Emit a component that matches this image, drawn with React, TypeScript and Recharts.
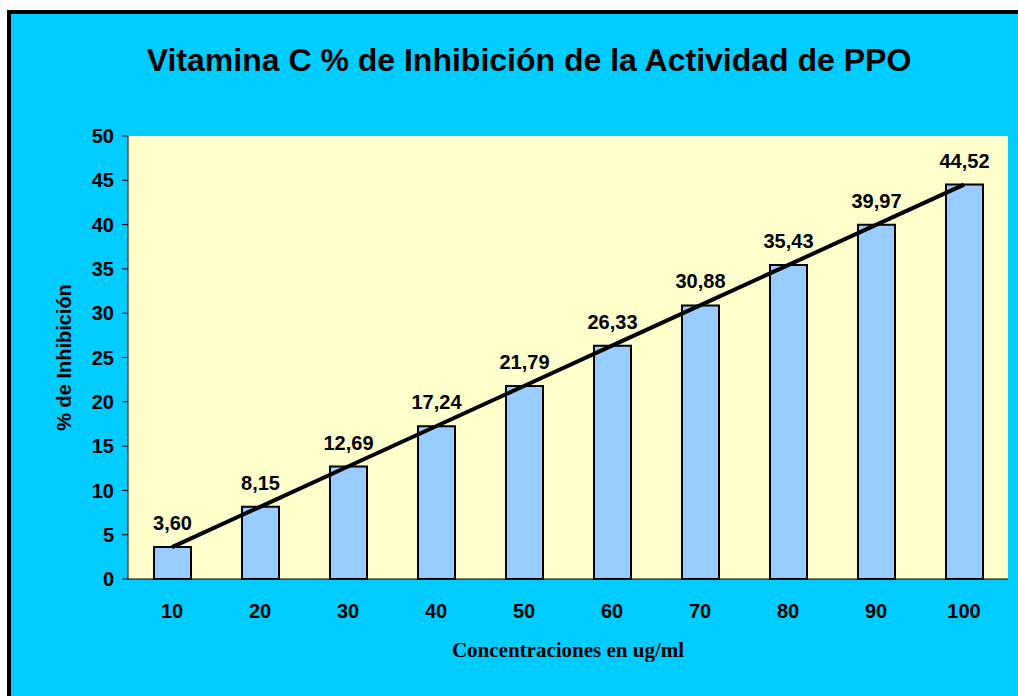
import React from "react"
import {
  ComposedChart,
  Bar,
  Line,
  XAxis,
  YAxis,
  CartesianGrid,
  LabelList,
  Label,
} from "recharts"

const concentrations = ["10", "20", "30", "40", "50", "60", "70", "80", "90", "100"]
const inhibition = [3.6, 8.15, 12.69, 17.24, 21.79, 26.33, 30.88, 35.43, 39.97, 44.52]
const yTicks = [0, 5, 10, 15, 20, 25, 30, 35, 40, 45, 50]

// linear trend line (least squares over the bar positions)
const n = inhibition.length
const xs = inhibition.map((_, i) => i + 1)
const meanX = xs.reduce((a, b) => a + b, 0) / n
const meanY = inhibition.reduce((a, b) => a + b, 0) / n
const slope =
  xs.reduce((s, x, i) => s + (x - meanX) * (inhibition[i] - meanY), 0) /
  xs.reduce((s, x) => s + (x - meanX) ** 2, 0)
const intercept = meanY - slope * meanX

const data = concentrations.map((c, i) => ({
  conc: c,
  value: inhibition[i],
  trend: intercept + slope * xs[i],
}))

const edgeTicks = Array.from({ length: n + 1 }, (_, i) => i)

const font = "'Liberation Sans', Arial, sans-serif"
const tickStyle = { fill: "#000", fontSize: 20, fontWeight: "bold", fontFamily: font }

const YLabel = ({ viewBox }: any) => {
  const x = viewBox.x + 6
  const y = viewBox.y + viewBox.height / 2
  return (
    <text
      x={x}
      y={y}
      transform={`rotate(-90, ${x}, ${y})`}
      textAnchor="middle"
      dominantBaseline="central"
      fontFamily={font}
      fontSize={20}
      fontWeight="bold"
      fill="#000"
    >
      % de Inhibición
    </text>
  )
}

export default function App() {
  return (
    <div
      style={{
        position: "absolute",
        left: 0,
        top: 0,
        width: 1018,
        height: 696,
        overflow: "hidden",
        background: "#fff",
      }}
    >
      <div
        style={{
          position: "absolute",
          left: 7,
          top: 10,
          width: 1100,
          height: 800,
          border: "4px solid #000",
          background: "#00CCFF",
        }}
      />
      <div
        style={{
          position: "absolute",
          left: 0,
          top: 44,
          width: 1058,
          textAlign: "center",
          fontFamily: font,
          fontSize: 32,
          lineHeight: "32px",
          fontWeight: "bold",
          color: "#000",
          whiteSpace: "nowrap",
        }}
      >
        Vitamina C % de Inhibición de la Actividad de PPO
      </div>
      <div style={{ position: "absolute", left: 0, top: 0 }}>
        <ComposedChart
          width={1018}
          height={696}
          data={data}
          margin={{ top: 136, right: 10, bottom: 27, left: 58 }}
        >
          <CartesianGrid horizontal={false} vertical={false} fill="#FFFFCC" stroke="none" />
          <XAxis
            xAxisId="edges"
            type="number"
            domain={[0, n]}
            ticks={edgeTicks}
            height={0}
            axisLine={false}
            tickSize={6}
            tickLine={{ stroke: "#000" }}
            tickFormatter={() => ""}
            allowDataOverflow
          />
          <XAxis
            dataKey="conc"
            height={90}
            axisLine={{ stroke: "#000" }}
            tickLine={false}
            tickSize={0}
            tickMargin={25}
            tick={tickStyle}
            interval={0}
          >
            <Label
              value="Concentraciones en ug/ml"
              position="insideBottom"
              offset={12}
              fill="#000"
              fontSize={21}
              fontWeight="bold"
              fontFamily="'Liberation Serif', 'Times New Roman', serif"
            />
          </XAxis>
          <YAxis
            domain={[0, 50]}
            ticks={yTicks}
            width={70}
            axisLine={{ stroke: "#000" }}
            tickLine={{ stroke: "#000" }}
            tickSize={6}
            tickMargin={8}
            tick={tickStyle}
            interval={0}
          >
            <Label content={<YLabel />} />
          </YAxis>
          <Bar
            dataKey="value"
            barSize={37}
            fill="#99CCFF"
            stroke="#000"
            strokeWidth={2}
            isAnimationActive={false}
          >
            <LabelList
              dataKey="value"
              position="top"
              offset={17}
              formatter={(v: any) => Number(v).toFixed(2).replace(".", ",")}
              fill="#000"
              fontSize={20}
              fontWeight="bold"
              fontFamily={font}
            />
          </Bar>
          <Line
            dataKey="trend"
            type="linear"
            stroke="#000"
            strokeWidth={4}
            dot={false}
            activeDot={false}
            isAnimationActive={false}
          />
        </ComposedChart>
      </div>
    </div>
  )
}
